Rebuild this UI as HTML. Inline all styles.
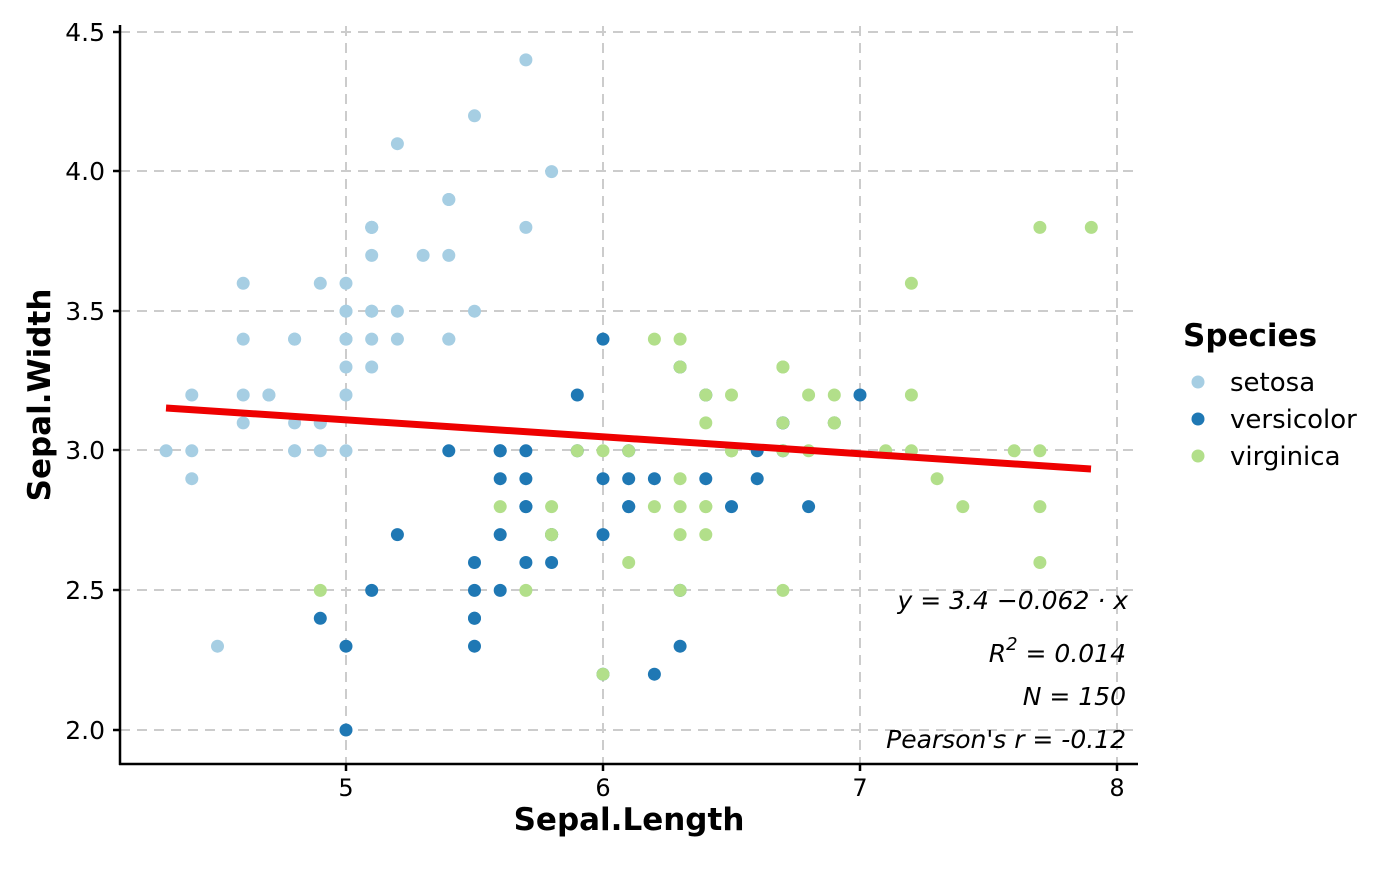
<!DOCTYPE html>
<html><head><meta charset="utf-8"><style>
html,body{margin:0;padding:0;background:#fff;}
svg text{font-family:"DejaVu Sans","Liberation Sans",sans-serif;}
</style></head><body>
<svg id="s" width="1400" height="866" viewBox="0 0 1400 866" xmlns="http://www.w3.org/2000/svg">
<g stroke="#cccccc" stroke-width="2" stroke-dasharray="10,7" fill="none">
<line x1="346" y1="26" x2="346" y2="764"/><line x1="603" y1="26" x2="603" y2="764"/>
<line x1="860" y1="26" x2="860" y2="764"/><line x1="1117" y1="26" x2="1117" y2="764"/>
<line x1="120" y1="730" x2="1138" y2="730"/><line x1="120" y1="590" x2="1138" y2="590"/>
<line x1="120" y1="450" x2="1138" y2="450"/><line x1="120" y1="311" x2="1138" y2="311"/>
<line x1="120" y1="171" x2="1138" y2="171"/><line x1="120" y1="32" x2="1138" y2="32"/>
</g>
<g id="pts"></g>
<line x1="166" y1="408" x2="1091" y2="469" stroke="#ee0000" stroke-width="7"/>
<g stroke="#000" stroke-width="2.5">
<line x1="120" y1="25" x2="120" y2="765"/><line x1="119" y1="764" x2="1138" y2="764"/>
<line x1="113" y1="730" x2="120" y2="730"/><line x1="113" y1="590" x2="120" y2="590"/>
<line x1="113" y1="450" x2="120" y2="450"/><line x1="113" y1="311" x2="120" y2="311"/>
<line x1="113" y1="171" x2="120" y2="171"/><line x1="113" y1="32" x2="120" y2="32"/>
<line x1="346" y1="764" x2="346" y2="771"/><line x1="603" y1="764" x2="603" y2="771"/>
<line x1="860" y1="764" x2="860" y2="771"/><line x1="1117" y1="764" x2="1117" y2="771"/>
</g>
<g font-size="25" fill="#000" text-anchor="end">
<text x="105" y="739">2.0</text><text x="105" y="599">2.5</text><text x="105" y="459">3.0</text>
<text x="105" y="320">3.5</text><text x="105" y="180">4.0</text><text x="105" y="41">4.5</text>
</g>
<g font-size="24" fill="#000" text-anchor="middle">
<text x="346" y="796">5</text><text x="603" y="796">6</text><text x="860" y="796">7</text><text x="1117" y="796">8</text>
</g>
<text x="629" y="830" font-size="31" font-weight="bold" text-anchor="middle">Sepal.Length</text>
<text transform="translate(50,395) rotate(-90)" font-size="31" font-weight="bold" text-anchor="middle">Sepal.Width</text>
<g font-size="25" font-style="italic" text-anchor="end">
<text x="1128" y="609">y = 3.4 −0.062 · x</text>
<text x="1126" y="662">R<tspan dy="-12" font-size="18">2</tspan><tspan dy="12"> = 0.014</tspan></text>
<text x="1126" y="705">N = 150</text>
<text x="1126" y="748">Pearson's r = -0.12</text>
</g>
<text x="1183" y="346" font-size="31" font-weight="bold">Species</text>
<circle cx="1198" cy="382" r="6.5" fill="#A6CEE3"/><circle cx="1198" cy="419" r="6.5" fill="#1F78B4"/><circle cx="1198" cy="456" r="6.5" fill="#B2DF8A"/>
<g font-size="26"><text x="1230" y="391">setosa</text><text x="1230" y="428">versicolor</text><text x="1230" y="465">virginica</text></g>
</svg>
<script>
var se=[5.1,3.5,4.9,3.0,4.7,3.2,4.6,3.1,5.0,3.6,5.4,3.9,4.6,3.4,5.0,3.4,4.4,2.9,4.9,3.1,5.4,3.7,4.8,3.4,4.8,3.0,4.3,3.0,5.8,4.0,5.7,4.4,5.4,3.9,5.1,3.5,5.7,3.8,5.1,3.8,5.4,3.4,5.1,3.7,4.6,3.6,5.1,3.3,4.8,3.4,5.0,3.0,5.0,3.4,5.2,3.5,5.2,3.4,4.7,3.2,4.8,3.1,5.4,3.4,5.2,4.1,5.5,4.2,4.9,3.1,5.0,3.2,5.5,3.5,4.9,3.6,4.4,3.0,5.1,3.4,5.0,3.5,4.5,2.3,4.4,3.2,5.0,3.5,5.1,3.8,4.8,3.0,5.1,3.8,4.6,3.2,5.3,3.7,5.0,3.3];
var ve=[7.0,3.2,6.4,3.2,6.9,3.1,5.5,2.3,6.5,2.8,5.7,2.8,6.3,3.3,4.9,2.4,6.6,2.9,5.2,2.7,5.0,2.0,5.9,3.0,6.0,2.2,6.1,2.9,5.6,2.9,6.7,3.1,5.6,3.0,5.8,2.7,6.2,2.2,5.6,2.5,5.9,3.2,6.1,2.8,6.3,2.5,6.1,2.8,6.4,2.9,6.6,3.0,6.8,2.8,6.7,3.0,6.0,2.9,5.7,2.6,5.5,2.4,5.5,2.4,5.8,2.7,6.0,2.7,5.4,3.0,6.0,3.4,6.7,3.1,6.3,2.3,5.6,3.0,5.5,2.5,5.5,2.6,6.1,3.0,5.8,2.6,5.0,2.3,5.6,2.7,5.7,3.0,5.7,2.9,6.2,2.9,5.1,2.5,5.7,2.8];
var vi=[6.3,3.3,5.8,2.7,7.1,3.0,6.3,2.9,6.5,3.0,7.6,3.0,4.9,2.5,7.3,2.9,6.7,2.5,7.2,3.6,6.5,3.2,6.4,2.7,6.8,3.0,5.7,2.5,5.8,2.8,6.4,3.2,6.5,3.0,7.7,3.8,7.7,2.6,6.0,2.2,6.9,3.2,5.6,2.8,7.7,2.8,6.3,2.7,6.7,3.3,7.2,3.2,6.2,2.8,6.1,3.0,6.4,2.8,7.2,3.0,7.4,2.8,7.9,3.8,6.4,2.8,6.3,2.8,6.1,2.6,7.7,3.0,6.3,3.4,6.4,3.1,6.0,3.0,6.9,3.1,6.7,3.1,6.9,3.1,5.8,2.7,6.8,3.2,6.7,3.3,6.7,3.0,6.3,2.5,6.5,3.0,6.2,3.4,5.9,3.0];
var g=document.getElementById('pts'),h='';
function add(a,c){for(var i=0;i<a.length;i+=2){var x=346+(a[i]-5)*257,y=730-(a[i+1]-2)*279.2;h+='<circle cx="'+x.toFixed(1)+'" cy="'+y.toFixed(1)+'" r="6.5" fill="'+c+'"/>';}}
add(se,'#A6CEE3');add(ve,'#1F78B4');add(vi,'#B2DF8A');
g.innerHTML=h;
</script>
</body></html>
